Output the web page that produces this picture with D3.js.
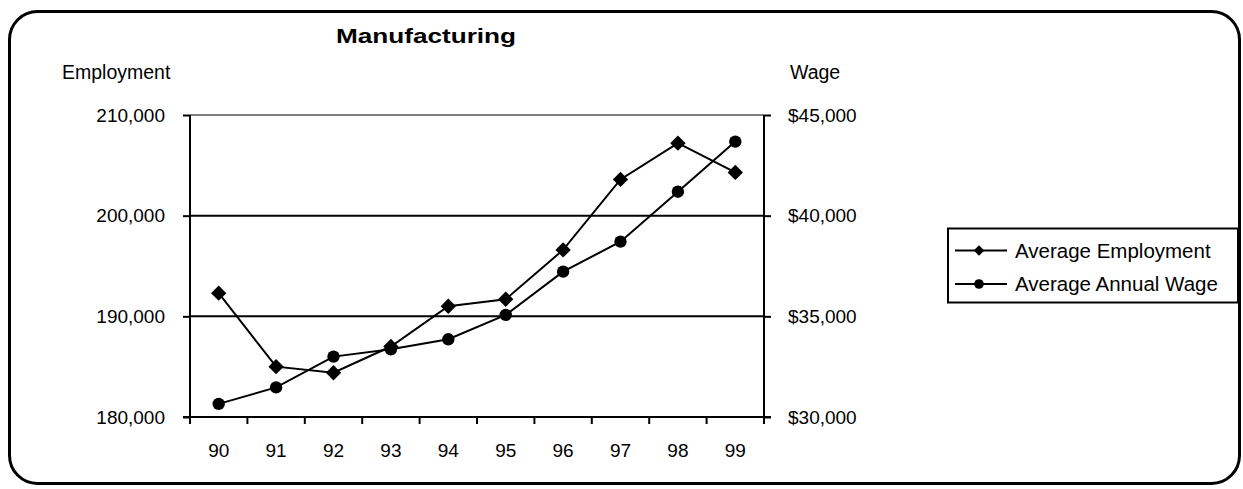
<html>
<script src='https://d3js.org/d3.v7.min.js'></script>
<body style="margin:0;background:#fff">
<style>
    body { font-family: "Liberation Sans", Arial, sans-serif; }
    text { fill: #000; }
</style>
<svg width=1243 height=489></svg>
<script>

// data
var years = ["90","91","92","93","94","95","96","97","98","99"];
var employment = [192300, 185000, 184400, 187000, 191000, 191700, 196600, 203600, 207200, 204300];
var wage = [30650, 31470, 33000, 33360, 33860, 35070, 37220, 38710, 41190, 43680];
var empTicks = [180000, 190000, 200000, 210000];
var wageTicks = [30000, 35000, 40000, 45000];
var seriesNames = ["Average Employment", "Average Annual Wage"];

var plotLeft = 190, plotRight = 764, plotTop = 115, plotBottom = 417;

var svg = d3.select("svg");

// outer rounded frame
svg.append("rect")
    .attr("x", 9.5).attr("y", 11.5)
    .attr("width", 1230).attr("height", 472)
    .attr("rx", 28).attr("ry", 28)
    .attr("fill", "none").attr("stroke", "#000").attr("stroke-width", 3);

var x = d3.scaleBand().domain(years).range([plotLeft, plotRight]).padding(0);
var yEmp = d3.scaleLinear().domain([180000, 210000]).range([plotBottom, plotTop]);
var yWage = d3.scaleLinear().domain([30000, 45000]).range([plotBottom, plotTop]);

// gridlines
svg.selectAll(".grid")
    .data(empTicks.slice(1))
    .enter().append("line")
    .attr("x1", plotLeft).attr("x2", plotRight)
    .attr("y1", function(d) { return yEmp(d); })
    .attr("y2", function(d) { return yEmp(d); })
    .attr("stroke", function(d) { return d == 210000 ? "#808080" : "#000"; })
    .attr("stroke-width", 2);

// left axis
var fmt = d3.format(",");
svg.append("g")
    .attr("transform", "translate(" + plotLeft + ",0)")
    .call(d3.axisLeft(yEmp).tickValues(empTicks).tickSize(7).tickPadding(18).tickFormat(fmt))
    .call(function(g) {
        g.select(".domain").attr("stroke-width", 2).attr("d", "M0," + plotTop + "V" + plotBottom);
        g.selectAll(".tick line").attr("stroke-width", 2);
        g.selectAll("text").style("font-size", "19px").style("font-family", "Liberation Sans, Arial, sans-serif");
    });

// right axis
svg.append("g")
    .attr("transform", "translate(" + plotRight + ",0)")
    .call(d3.axisRight(yWage).tickValues(wageTicks).tickSize(7).tickPadding(17).tickFormat(function(d) { return "$" + fmt(d); }))
    .call(function(g) {
        g.select(".domain").attr("stroke-width", 2).attr("d", "M0," + plotTop + "V" + plotBottom);
        g.selectAll(".tick line").attr("stroke-width", 2);
        g.selectAll("text").style("font-size", "19px").style("font-family", "Liberation Sans, Arial, sans-serif");
    });

// bottom axis: line, ticks at band edges, labels at centers
svg.append("line")
    .attr("x1", plotLeft - 7).attr("x2", plotRight + 7)
    .attr("y1", plotBottom).attr("y2", plotBottom)
    .attr("stroke", "#000").attr("stroke-width", 2);

var edges = years.map(function(d) { return x(d); }).concat([plotRight]);
svg.selectAll(".xtick")
    .data(edges)
    .enter().append("line")
    .attr("x1", function(d) { return d; }).attr("x2", function(d) { return d; })
    .attr("y1", plotBottom).attr("y2", plotBottom + 7)
    .attr("stroke", "#000").attr("stroke-width", 2);

svg.selectAll(".xlabel")
    .data(years)
    .enter().append("text")
    .attr("x", function(d) { return x(d) + x.bandwidth() / 2; })
    .attr("y", 457)
    .attr("text-anchor", "middle")
    .style("font-size", "19px")
    .text(function(d) { return d; });

// lines
var cx = function(d, i) { return x(years[i]) + x.bandwidth() / 2; };

var empLine = d3.line().x(cx).y(function(d) { return yEmp(d); });
var wageLine = d3.line().x(cx).y(function(d) { return yWage(d); });

svg.append("path").datum(employment).attr("d", empLine)
    .attr("fill", "none").attr("stroke", "#000").attr("stroke-width", 2);
svg.append("path").datum(wage).attr("d", wageLine)
    .attr("fill", "none").attr("stroke", "#000").attr("stroke-width", 2);

var diamond = d3.symbol().type(d3.symbolDiamond2).size(150);

svg.selectAll(".emp")
    .data(employment)
    .enter().append("path")
    .attr("d", diamond)
    .attr("transform", function(d, i) { return "translate(" + cx(d, i) + "," + yEmp(d) + ")"; })
    .attr("fill", "#000");

svg.selectAll(".wage")
    .data(wage)
    .enter().append("circle")
    .attr("cx", cx)
    .attr("cy", function(d) { return yWage(d); })
    .attr("r", 6.2)
    .attr("fill", "#000");

// titles
svg.append("text")
    .attr("x", 426).attr("y", 43)
    .attr("text-anchor", "middle")
    .attr("textLength", 180).attr("lengthAdjust", "spacingAndGlyphs")
    .style("font-size", "21px").style("font-weight", "bold")
    .text("Manufacturing");

svg.append("text").attr("x", 62).attr("y", 79)
    .style("font-size", "19.5px").text("Employment");
svg.append("text").attr("x", 790).attr("y", 79)
    .style("font-size", "19.5px").text("Wage");

// legend
var lg = svg.append("g");
lg.append("rect")
    .attr("x", 948).attr("y", 228.5)
    .attr("width", 290).attr("height", 74)
    .attr("fill", "#fff").attr("stroke", "#000").attr("stroke-width", 2);

var rows = [250.5, 284];
seriesNames.forEach(function(name, i) {
    lg.append("line")
        .attr("x1", 955).attr("x2", 1007)
        .attr("y1", rows[i]).attr("y2", rows[i])
        .attr("stroke", "#000").attr("stroke-width", 2);
    if (i == 0) {
        lg.append("path")
            .attr("d", d3.symbol().type(d3.symbolDiamond2).size(70))
            .attr("transform", "translate(979," + rows[i] + ")");
    } else {
        lg.append("circle").attr("cx", 979).attr("cy", rows[i]).attr("r", 4.8);
    }
    lg.append("text")
        .attr("x", 1015).attr("y", rows[i] + 7)
        .style("font-size", "20.5px")
        .text(name);
});

</script>
</body>
</html>
